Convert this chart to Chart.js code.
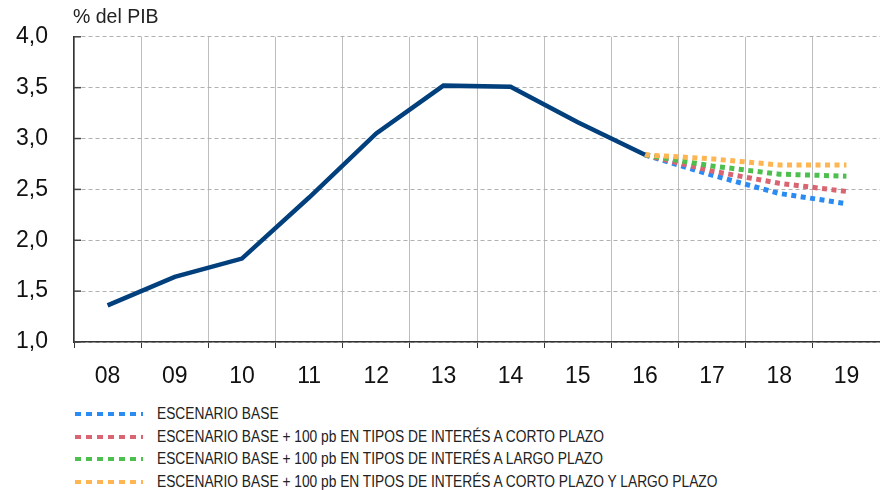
<!DOCTYPE html>
<html>
<head>
<meta charset="utf-8">
<script src="https://cdn.jsdelivr.net/npm/chart.js@4.4.1/dist/chart.umd.min.js"></script>
<style>
  body { margin: 0; background: #fff; font-family: "Liberation Sans", Arial, sans-serif; }
  #wrap { position: relative; width: 880px; height: 490px; overflow: hidden; }
  #box { position: absolute; left: 0; top: -3px; width: 880px; height: 403px; }
  #unit { position: absolute; left: 73px; top: 5px; font-size: 19.5px; color: #222; }
  #legend { position: absolute; left: 75px; top: 403px; font-family: "Liberation Sans", sans-serif; font-size: 16px; color: #222; }
  .row { height: 22.5px; display: flex; align-items: center; }
  .swatch { width: 68px; height: 4px; margin-right: 14px; }
  .row span { display: inline-block; transform: scaleX(0.86); transform-origin: left center; white-space: nowrap; }
</style>
</head>
<body>
<div id="wrap">
  <div id="box"><canvas id="chart"></canvas></div>
  <div id="unit">% del PIB</div>
  <div id="legend"></div>
</div>
<script>
const years = ['08', '09', '10', '11', '12', '13', '14', '15', '16', '17', '18', '19'];
const historico = [1.36, 1.64, 1.82, 2.42, 3.05, 3.52, 3.51, 3.16, 2.84, null, null, null];
const base      = [null, null, null, null, null, null, null, null, 2.84, 2.64, 2.46, 2.36];
const corto     = [null, null, null, null, null, null, null, null, 2.84, 2.68, 2.56, 2.48];
const largo     = [null, null, null, null, null, null, null, null, 2.84, 2.73, 2.65, 2.63];
const ambos     = [null, null, null, null, null, null, null, null, 2.84, 2.80, 2.74, 2.74];

const seriesNames = [
    'ESCENARIO BASE',
    'ESCENARIO BASE + 100 pb EN TIPOS DE INTERÉS A CORTO PLAZO',
    'ESCENARIO BASE + 100 pb EN TIPOS DE INTERÉS A LARGO PLAZO',
    'ESCENARIO BASE + 100 pb EN TIPOS DE INTERÉS A CORTO PLAZO Y LARGO PLAZO'
];
const seriesColors = ['#2a8cf2', '#da6572', '#4dbf4f', '#ffb552'];
const seriesData = [base, corto, largo, ambos];

const dotted = (i) => ({
    label: seriesNames[i],
    data: seriesData[i],
    borderColor: seriesColors[i],
    borderWidth: 5,
    borderDash: [5, 4.5],
    pointRadius: 0,
    fill: false,
    order: 5 - i
});

// short inward ticks on the y axis
const yTicks = {
    id: 'yTicks',
    afterDraw(chart) {
        const ctx = chart.ctx, y = chart.scales.y, left = chart.chartArea.left;
        ctx.save();
        ctx.strokeStyle = '#444';
        ctx.lineWidth = 1.5;
        y.ticks.forEach((t) => {
            const py = y.getPixelForValue(t.value);
            ctx.beginPath();
            ctx.moveTo(left, py);
            ctx.lineTo(left + 7, py);
            ctx.stroke();
        });
        ctx.restore();
    }
};

new Chart(document.getElementById('chart'), {
    type: 'line',
    data: {
        labels: years,
        datasets: [
            {
                label: 'histórico',
                data: historico,
                borderColor: '#01407d',
                borderWidth: 4.5,
                pointRadius: 0,
                fill: false,
                order: 0
            },
            dotted(0), dotted(1), dotted(2), dotted(3)
        ]
    },
    options: {
        responsive: true,
        maintainAspectRatio: false,
        animation: false,
        layout: { padding: { top: 26, right: 0, left: 0, bottom: 0 } },
        plugins: {
            legend: { display: false },
            tooltip: { enabled: false }
        },
        scales: {
            x: {
                offset: true,
                grid: { offset: true, color: '#bdbdbd', lineWidth: 1, tickLength: 6, tickColor: '#333' },
                border: { display: true, color: '#333', width: 1.5 },
                ticks: { color: '#111', font: { size: 23, family: 'Liberation Sans' }, padding: 15, maxRotation: 0 },
                afterFit: (s) => { s.height = 58; }
            },
            y: {
                min: 1,
                max: 4,
                grid: { color: '#b0b0b0', lineWidth: 1, drawTicks: false },
                border: { display: true, color: '#333', width: 1.5, dash: [4, 3] },
                ticks: {
                    stepSize: 0.5,
                    color: '#111',
                    padding: 26,
                    font: { size: 23, family: 'Liberation Sans' },
                    callback: (v) => v.toFixed(1).replace('.', ',')
                },
                afterFit: (s) => { s.width = 74; }
            }
        }
    },
    plugins: [yTicks]
});

const legend = document.getElementById('legend');
seriesNames.forEach((name, i) => {
    const row = document.createElement('div');
    row.className = 'row';
    const sw = document.createElement('div');
    sw.className = 'swatch';
    sw.style.background = 'repeating-linear-gradient(90deg, ' + seriesColors[i] + ' 0 6px, transparent 6px 11px)';
    const txt = document.createElement('span');
    txt.textContent = name;
    row.appendChild(sw);
    row.appendChild(txt);
    legend.appendChild(row);
});
</script>
</body>
</html>
